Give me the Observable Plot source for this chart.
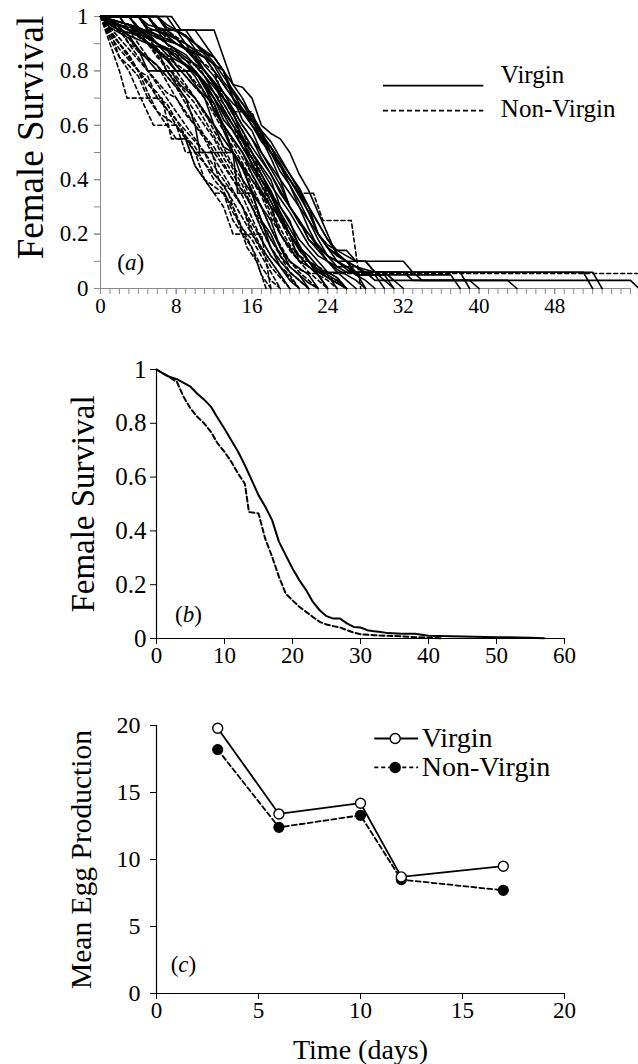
<!DOCTYPE html>
<html><head><meta charset="utf-8">
<script src="https://cdn.jsdelivr.net/npm/d3@7"></script>
<script src="https://cdn.jsdelivr.net/npm/@observablehq/plot@0.6"></script>
<style>
html,body{margin:0;padding:0;background:#fff;}
#chart svg{display:block;overflow:visible;}
#chart svg text{font-family:"Liberation Serif","Times New Roman",serif;}
</style></head><body><div id="chart"></div>
<script>
// ---------- Panel (a): individual survival curves, flat lists of day, survival ----------
const virginCurves = [
  [0,1, 7.5,1, 8.5,.95, 12,.95, 13,.85, 14,.75, 15,.74, 16,.7, 17,.6, 18,.57, 19,.55, 20,.5, 21,.42, 22,.36, 23,.28, 24,.2, 25,.12, 26,.1, 27,.06, 28,0],
  [0,1, 5,1, 6,.95, 9,.9, 11,.85, 13,.8, 14,.7, 15,.65, 17,.58, 18,.5, 19,.45, 20,.4, 22,.3, 23,.2, 24,.15, 26,.1, 27,.05, 29,.05, 30,0],
  [0,1, 3,.95, 6,.95, 7,.9, 9,.85, 11,.8, 12,.75, 14,.65, 15,.55, 16,.5, 17,.45, 18,.4, 19,.3, 20,.25, 21,.15, 22,.1, 23,.05, 24,0],
  [0,1, 2,.97, 4,.95, 6,.9, 8,.85, 10,.8, 11,.75, 12,.7, 13,.65, 14,.6, 15,.55, 16,.45, 17,.4, 18,.35, 19,.25, 20,.2, 21,.1, 22,.1, 23,.05, 24,0],
  [0,1, 4,1, 5,.95, 8,.95, 9,.9, 11,.85, 12,.8, 13,.75, 14,.7, 16,.62, 17,.55, 18,.48, 19,.4, 20,.35, 21,.3, 22,.22, 23,.15, 24,.12, 25,.1, 28,.1, 29,.06, 33,.06, 34,.03, 56,.03, 56.9,0],
  [0,1, 3,1, 4,.95, 5,.9, 7,.85, 8,.8, 10,.8, 11,.75, 12,.65, 13,.6, 14,.5, 15,.45, 16,.35, 17,.3, 18,.25, 19,.15, 20,.1, 22,.05, 23,0],
  [0,1, 6,1, 7,.97, 9,.93, 10,.88, 12,.85, 13,.8, 14,.72, 15,.66, 16,.6, 17,.55, 18,.52, 19,.45, 20,.4, 21,.35, 22,.28, 23,.2, 24,.16, 25,.14, 26,.14, 27,.1, 32,.1, 33,.06, 52,.06, 53,0],
  [0,1, 2,.95, 4,.93, 6,.88, 7,.8, 9,.8, 10,.75, 11,.7, 12,.6, 13,.55, 14,.5, 15,.4, 16,.35, 17,.25, 18,.2, 19,.12, 20,.08, 21,.05, 22,0],
  [0,1, 3,1, 4,.96, 6,.92, 8,.9, 10,.86, 11,.8, 12,.76, 13,.7, 14,.66, 15,.6, 16,.55, 17,.5, 18,.44, 19,.38, 20,.3, 21,.25, 22,.18, 23,.15, 24,.12, 26,.08, 27,.05, 30,.05, 31,0],
  [0,1, 1,.97, 3,.93, 4,.88, 5,.8, 7.4,.8, 8.4,.75, 10,.7, 11,.65, 12,.6, 13,.52, 14,.5, 15,.45, 16,.4, 17,.35, 18,.3, 19,.2, 20,.15, 21,.1, 23,.06, 38,.06, 39,0],
  [0,1, 5,1, 6,.95, 10,.95, 11,.9, 12,.85, 13,.8, 14,.7, 15,.62, 16,.58, 17,.5, 18,.45, 19,.4, 20,.3, 21,.25, 22,.2, 23,.15, 24,.1, 25,.06, 26,.03, 27,0],
  [0,1, 2,1, 3,.95, 5,.92, 7,.88, 8,.82, 9,.78, 10,.74, 12,.68, 13,.6, 14,.55, 15,.5, 16,.42, 17,.36, 18,.3, 19,.26, 20,.2, 21,.15, 22,.12, 23,.08, 24,.05, 25,0],
  [0,1, 4,1, 5,.96, 7,.93, 8,.9, 10,.87, 11,.82, 12,.78, 13,.72, 14,.68, 15,.65, 16,.6, 17,.56, 18,.5, 19,.45, 20,.38, 21,.32, 22,.25, 23,.18, 24,.12, 25,.08, 26,.06, 28,.06, 29,.03, 43,.03, 44,0],
  [0,1, 3,.97, 5,.93, 6,.9, 8,.86, 9,.82, 11,.76, 12,.7, 13,.62, 14,.58, 15,.52, 16,.48, 17,.42, 18,.36, 19,.28, 20,.22, 21,.16, 22,.1, 23,.07, 24,.05, 25,.03, 26,0],
  [0,1, 7,1, 8,.95, 10,.9, 11,.86, 12,.82, 13,.76, 14,.72, 15,.68, 16,.64, 17,.58, 18,.54, 19,.48, 20,.42, 21,.36, 22,.3, 23,.24, 24,.18, 25,.13, 26,.1, 27,.08, 28,.06, 51,.06, 52,0],
  [0,1, 1,.96, 3,.92, 4,.88, 5,.84, 6,.8, 7,.8, 8,.75, 9,.7, 10,.6, 10.5,.5, 14,.5, 14.5,.35, 16,.35, 17,.25, 18,.15, 19,.08, 20,.03, 21,0],
  [0,1, 4,1, 5,.95, 8,.9, 9,.88, 10,.85, 11,.8, 12,.75, 13,.68, 14,.62, 15,.56, 16,.5, 17,.44, 18,.38, 19,.33, 20,.28, 21,.22, 22,.16, 23,.12, 24,.1, 25,.08, 27,.08, 28,.05, 37,.05, 38,0],
  [0,1, 2,.98, 4,.96, 6,.93, 7,.9, 9,.86, 10,.82, 11,.78, 12,.74, 13,.7, 14,.64, 15,.58, 16,.52, 17,.47, 18,.42, 19,.35, 20,.3, 21,.25, 22,.18, 23,.14, 24,.1, 25,.07, 26,.05, 27,.03, 28,0],
  [0,1, 5,1, 6,.96, 8,.92, 9,.88, 11,.85, 12,.8, 13,.75, 14,.7, 15,.65, 16,.6, 17,.54, 18,.5, 19,.46, 20,.4, 21,.34, 22,.28, 23,.2, 24,.15, 25,.12, 26,.1, 27,.08, 29,.06, 32,.06, 33,.03, 39,.03, 40,0],
  [0,1, 3,.97, 4,.94, 6,.9, 7,.86, 8,.84, 10,.8, 11,.76, 12,.72, 13,.66, 14,.6, 15,.54, 16,.48, 17,.42, 18,.35, 19,.3, 20,.24, 21,.18, 22,.14, 23,.1, 24,.06, 25,.04, 26,0],
  [0,1, 6,1, 7,.96, 9,.93, 10,.9, 11,.87, 12,.83, 13,.78, 14,.73, 15,.68, 16,.62, 17,.57, 18,.52, 19,.47, 20,.42, 21,.37, 22,.3, 23,.24, 24,.18, 25,.14, 26,.12, 27,.1, 28,.1, 29,.06, 30,.03, 31,0],
  [0,1, 2,.96, 3,.93, 5,.9, 6,.87, 7,.84, 8,.8, 10,.8, 11,.74, 12,.68, 13,.58, 14,.5, 15,.44, 16,.36, 17,.3, 18,.22, 19,.15, 20,.08, 21,.05, 22,.02, 23,0],
  [0,1, 6,1, 7,.95, 9,.95, 10,.9, 12,.85, 13,.8, 14,.75, 15,.7, 16,.63, 17,.57, 18,.5, 19,.43, 20,.38, 21,.3, 22,.25, 23,.2, 24,.15, 25,.1, 26,.07, 27,.05, 28,.03, 29,0],
  [0,1, 1,.97, 2,.95, 4,.93, 5,.9, 7,.88, 8,.85, 9,.82, 10,.78, 11,.72, 12,.66, 13,.6, 14,.55, 15,.5, 16,.44, 17,.38, 18,.32, 19,.25, 20,.2, 21,.15, 22,.1, 23,.07, 24,.04, 25,.02, 26,0],
  [0,1, 4,1, 5,.97, 7,.95, 8,.92, 9,.88, 10,.84, 11,.8, 12,.76, 13,.72, 14,.66, 15,.6, 16,.55, 17,.48, 18,.42, 19,.36, 20,.3, 21,.24, 22,.2, 23,.16, 24,.12, 25,.1, 26,.08, 27,.06, 30,.06, 31,.03, 32,0],
  [0,1, 2,.97, 3,.95, 5,.94, 6,.9, 8,.87, 9,.84, 10,.8, 11,.74, 12,.7, 13,.64, 14,.58, 15,.52, 16,.46, 17,.4, 18,.34, 19,.27, 20,.2, 21,.14, 22,.1, 23,.06, 24,.04, 25,.02, 26,0]
];
const nonVirginCurves = [
  [0,1, 1,.9, 2,.8, 2.8,.7, 6.5,.7, 7.5,.55, 9,.55, 10,.45, 11,.4, 12,.35, 13,.3, 14,.2, 17,.2, 17.5,.1, 18,0],
  [0,1, 1,.95, 2,.85, 3,.8, 4,.72, 5.6,.6, 8,.6, 9,.5, 11.8,.5, 12.5,.4, 13.5,.35, 14.5,.25, 15.5,.15, 16.5,.1, 17,.05, 17.5,0],
  [0,1, 6,1, 7,.95, 9,.9, 10,.85, 12,.8, 13,.7, 14,.65, 16,.65, 17,.55, 18,.5, 19,.45, 20,.4, 21,.35, 22.5,.35, 23.5,.25, 26.5,.25, 27.5,0],
  [0,1, 1,.92, 2,.85, 3,.82, 4,.78, 5,.7, 6,.65, 8,.6, 9,.55, 10,.45, 11,.4, 13,.35, 14,.3, 15,.22, 16,.15, 17,.08, 18,.03, 19,0],
  [0,1, 2,.95, 3,.9, 4,.85, 5,.8, 6,.75, 7,.7, 8,.65, 9,.6, 10,.55, 11,.5, 12,.45, 13,.4, 14,.35, 15,.3, 16,.22, 17,.15, 18,.1, 19,.05, 20,0],
  [0,1, 3,.97, 4,.93, 6,.88, 7,.84, 8,.8, 9,.75, 10,.7, 11,.65, 12,.58, 13,.52, 14,.45, 15,.4, 16,.32, 17,.25, 18,.18, 19,.12, 20,.06, 21,.03, 22,0],
  [0,1, 1,.93, 2,.88, 3,.84, 4,.8, 5,.76, 6,.7, 7,.68, 8,.62, 9,.56, 10,.5, 11,.46, 12,.4, 13,.36, 14,.28, 15,.22, 16,.18, 17,.12, 18,.06, 19,0],
  [0,1, 4,1, 5,.95, 7,.9, 8,.86, 10,.82, 11,.78, 12,.72, 13,.66, 14,.6, 15,.52, 16,.46, 17,.38, 18,.3, 19,.22, 20,.16, 21,.12, 22,.08, 23,.05, 24,0],
  [0,1, 2,.96, 3,.9, 5,.85, 6,.82, 7,.76, 8,.7, 9,.64, 10,.6, 11,.56, 12,.5, 13,.45, 14,.4, 15,.34, 16,.26, 17,.18, 18,.12, 19,.08, 20,.04, 21,0],
  [0,1, 3,.95, 5,.9, 6,.86, 7,.8, 8,.76, 9,.72, 10,.68, 11,.62, 12,.56, 13,.5, 14,.44, 15,.38, 16,.3, 17,.24, 18,.18, 19,.13, 20,.1, 21,.07, 22,.055, 57,.055],
  [0,1, 5,1, 6,.95, 8,.92, 9,.88, 10,.84, 11,.78, 12,.72, 13,.68, 14,.62, 15,.55, 16,.48, 17,.4, 18,.32, 19,.25, 20,.18, 21,.12, 22,.08, 23,.05, 24,.03, 25,0],
  [0,1, 1,.95, 2,.9, 3,.86, 4,.8, 5,.78, 6,.7, 7,.66, 8,.62, 9,.58, 10,.54, 11,.5, 12,.42, 13,.38, 14,.36, 15,.3, 16,.2, 17,.15, 18,.1, 19,.05, 20,0],
  [0,1, 2,.97, 4,.93, 5,.9, 6,.85, 7,.82, 8,.78, 9,.74, 10,.7, 11,.64, 12,.6, 13,.55, 14,.5, 15,.45, 16,.38, 17,.3, 18,.22, 19,.16, 20,.1, 21,.06, 22,.03, 23,0],
  [0,1, 1,.97, 3,.92, 4,.87, 6,.82, 7,.78, 8,.74, 9,.68, 10,.62, 11,.56, 12,.52, 13,.46, 14,.4, 15,.36, 16,.3, 17,.22, 18,.15, 19,.1, 20,.06, 21,.03, 22,0],
  [0,1, 3,1, 4,.96, 5,.92, 6,.88, 7,.85, 9,.8, 10,.76, 11,.72, 12,.66, 13,.6, 14,.54, 15,.48, 16,.42, 17,.35, 18,.28, 19,.2, 20,.14, 21,.1, 22,.06, 23,.03, 24,0],
  [0,1, 2,.9, 3,.85, 4,.8, 5,.72, 6,.65, 7,.6, 8,.55, 9,.55, 10,.5, 11,.4, 12,.35, 13,.35, 14,.25, 15,.2, 16,.15, 17,.05, 18,0],
  [0,1, 4,.96, 6,.9, 7,.86, 8,.82, 9,.78, 10,.74, 11,.7, 12,.64, 13,.58, 14,.52, 15,.46, 16,.4, 17,.34, 18,.26, 19,.2, 20,.15, 21,.12, 22,.1, 23,.08, 24,.06, 25,.04, 26,0],
  [0,1, 1,.96, 2,.92, 3,.88, 4,.84, 5,.8, 6,.76, 7,.72, 8,.7, 9,.65, 10,.6, 11,.55, 12,.48, 13,.42, 14,.36, 15,.3, 16,.24, 17,.18, 18,.12, 19,.08, 20,.05, 21,0],
  [0,1, 2,1, 3,.95, 4,.9, 5,.85, 6,.82, 7,.78, 8,.74, 9,.7, 10,.65, 11,.6, 12,.55, 13,.48, 14,.42, 15,.36, 16,.3, 17,.22, 18,.15, 19,.1, 20,.06, 21,.03, 22,0],
  [0,1, 1,.94, 2,.9, 3,.85, 4,.8, 5,.75, 6,.72, 7,.66, 8,.6, 9,.56, 10,.52, 11,.46, 12,.42, 13,.38, 14,.32, 15,.26, 16,.2, 17,.14, 18,.08, 19,.04, 20,0],
  [0,1, 5,1, 6,.96, 7,.92, 9,.88, 10,.84, 11,.8, 12,.75, 13,.7, 14,.64, 15,.58, 16,.5, 17,.42, 18,.35, 19,.28, 20,.2, 21,.15, 22,.1, 23,.06, 24,.04, 25,.03, 26,0]
];
const survivalTicks = [0, 0.2, 0.4, 0.6, 0.8, 1];
const survivalMinorTicks = [0, 0.1, 0.2, 0.3, 0.4, 0.5, 0.6, 0.7, 0.8, 0.9, 1];
const dayTicksA = [0, 8, 16, 24, 32, 40, 48];
const legendA = [{label: "Virgin", y: 0.746, ty: 0.757}, {label: "Non-Virgin", y: 0.654, ty: 0.629}];

// ---------- Panel (b): pooled survival ----------
const virginMeanDays = [0,1,2,3,4,5,6,7,8,9,10,11,12,13,14,15,16,17,18,19,20,21,22,23,24,25,26,27,28,29,30,31,32,33,34,36,38,40,45,50,55,57];
const virginMean = [1,.985,.972,.964,.95,.936,.91,.888,.862,.82,.78,.737,.694,.644,.589,.533,.49,.44,.36,.31,.26,.217,.18,.136,.105,.083,.074,.074,.056,.043,.041,.031,.027,.024,.02,.018,.018,.01,.007,.005,.003,.001];
const nonVirginMeanDays = [0,1,2,3,4,5,6,7,8,9,10,11,12,13,13.6,15,16,17,18,19,20,21,22,23,24,25,26,27,28,29,30,32,34,36,38,40,42];
const nonVirginMean = [1,.985,.97,.954,.898,.855,.824,.8,.768,.725,.694,.657,.613,.575,.47,.465,.37,.304,.23,.167,.142,.118,.099,.08,.062,.052,.046,.041,.031,.022,.016,.012,.01,.008,.005,.003,.001];
const dayTicksB = [0, 10, 20, 30, 40, 50, 60];

// ---------- Panel (c): mean egg production ----------
const eggDays = [3, 6, 10, 12, 17];
const virginEggs = [19.8, 13.4, 14.2, 8.7, 9.5];
const nonVirginEggs = [18.2, 12.4, 13.3, 8.5, 7.7];
const eggTicks = [0, 5, 10, 15, 20];
const dayTicksC = [0, 5, 10, 15, 20];
const legendC = [{label: "Virgin", y: 19.03}, {label: "Non-Virgin", y: 16.87}];

// ---------- helpers ----------
const FONT = "Liberation Serif";
function curveRows(curves, group) {
  return curves.flatMap((c, i) => {
    const out = [];
    for (let k = 0; k < c.length; k += 2) out.push({id: group + i, day: c[k], s: c[k + 1]});
    return out;
  });
}
const zip = (xs, ys) => xs.map((x, i) => ({x, y: ys[i]}));
const fmt = d => String(d);
const baseStyle = {fontFamily: FONT, color: "black", background: "white", overflow: "visible"};
const ax = o => ({fontFamily: FONT, fontVariant: "normal", ...o});

// ---------- Panel (a) ----------
const plotA = Plot.plot({
  width: 638, height: 320,
  marginTop: 16, marginBottom: 32, marginLeft: 100, marginRight: 8,
  style: baseStyle,
  x: {domain: [0, 56]},
  y: {domain: [0, 1]},
  marks: [
    Plot.ruleX([0], {stroke: "#8a8a8a", strokeWidth: 1}),
    Plot.ruleY([0], {stroke: "#8a8a8a", strokeWidth: 1}),
    Plot.axisX(ax({ticks: d3.range(0, 57), tickSize: 6, tickFormat: () => "", stroke: "#8a8a8a", label: null})),
    Plot.axisX(ax({ticks: dayTicksA, tickSize: 6, tickPadding: 4, fontSize: 21, tickFormat: fmt, stroke: "#8a8a8a", label: null})),
    Plot.axisY(ax({ticks: survivalMinorTicks, tickSize: 6, tickFormat: () => "", stroke: "#8a8a8a", label: null})),
    Plot.axisY(ax({ticks: survivalTicks, tickSize: 6, tickPadding: 6, fontSize: 23, tickFormat: fmt, stroke: "#8a8a8a", label: null})),
    Plot.text(["Female Survival"], {text: d => d, frameAnchor: "left", rotate: -90, lineAnchor: "middle", textAnchor: "middle", dx: -69, dy: -15, fontSize: 37, fontFamily: FONT}),
    Plot.line(curveRows(nonVirginCurves, "n"), {x: "day", y: "s", z: "id", stroke: "black", strokeWidth: 1.6, strokeDasharray: "4,3"}),
    Plot.line(curveRows(virginCurves, "v"), {x: "day", y: "s", z: "id", stroke: "black", strokeWidth: 1.6}),
    Plot.ruleY(legendA.slice(0, 1), {y: "y", x1: 29.9, x2: 40.5, stroke: "black", strokeWidth: 1.6}),
    Plot.ruleY(legendA.slice(1), {y: "y", x1: 29.9, x2: 40.5, stroke: "black", strokeWidth: 1.6, strokeDasharray: "5,3"}),
    Plot.text(legendA, {x: 42.3, y: "ty", text: "label", textAnchor: "start", lineAnchor: "bottom", fontSize: 25, fontFamily: FONT}),
    Plot.text(["(a)"], {x: 3.2, y: 0.096, text: d => d, fontSize: 23, fontFamily: FONT})
  ]
});

// ---------- Panel (b) ----------
const plotB = Plot.plot({
  width: 638, height: 360,
  marginTop: 49, marginBottom: 42, marginLeft: 156, marginRight: 74,
  style: baseStyle,
  x: {domain: [0, 60]},
  y: {domain: [0, 1]},
  marks: [
    Plot.ruleX([0], {stroke: "black", strokeWidth: 1.2}),
    Plot.ruleY([0], {stroke: "black", strokeWidth: 1.2}),
    Plot.axisX(ax({ticks: dayTicksB, tickSize: 6, tickPadding: 2, fontSize: 23, tickFormat: fmt, label: null})),
    Plot.axisY(ax({ticks: survivalTicks, tickSize: 6, tickPadding: 4, fontSize: 25, tickFormat: fmt, label: null})),
    Plot.axisY(ax({ticks: [], label: "Female Survival", labelAnchor: "center", labelArrow: "none", labelOffset: 86, fontSize: 33})),
    Plot.line(zip(nonVirginMeanDays, nonVirginMean), {x: "x", y: "y", stroke: "black", strokeWidth: 2, strokeDasharray: "5,3"}),
    Plot.line(zip(virginMeanDays, virginMean), {x: "x", y: "y", stroke: "black", strokeWidth: 2}),
    Plot.text(["(b)"], {x: 4.7, y: 0.089, text: d => d, fontSize: 23, fontFamily: FONT})
  ]
});

// ---------- Panel (c) ----------
const plotC = Plot.plot({
  width: 638, height: 384,
  marginTop: 45, marginBottom: 71, marginLeft: 156, marginRight: 74,
  style: baseStyle,
  x: {domain: [0, 20]},
  y: {domain: [0, 20]},
  marks: [
    Plot.ruleX([0], {stroke: "black", strokeWidth: 1.2}),
    Plot.ruleY([0], {stroke: "black", strokeWidth: 1.2}),
    Plot.axisX(ax({ticks: dayTicksC, tickSize: 6, tickPadding: 2, fontSize: 23, tickFormat: fmt, label: null})),
    Plot.axisY(ax({ticks: eggTicks, tickSize: 6, tickPadding: 10, fontSize: 24, tickFormat: fmt, label: null})),
    Plot.axisY(ax({ticks: [], label: "Mean Egg Production", labelAnchor: "center", labelArrow: "none", labelOffset: 86, fontSize: 29.5})),
    Plot.axisX(ax({ticks: [], label: "Time (days)", labelAnchor: "center", labelArrow: "none", labelOffset: 65, fontSize: 28})),
    Plot.line(zip(eggDays, nonVirginEggs), {x: "x", y: "y", stroke: "black", strokeWidth: 1.8, strokeDasharray: "5,3"}),
    Plot.line(zip(eggDays, virginEggs), {x: "x", y: "y", stroke: "black", strokeWidth: 1.8}),
    Plot.dot(zip(eggDays, nonVirginEggs), {x: "x", y: "y", r: 5, fill: "black", stroke: "black", strokeWidth: 1.2}),
    Plot.dot(zip(eggDays, virginEggs), {x: "x", y: "y", r: 5, fill: "white", stroke: "black", strokeWidth: 1.4}),
    Plot.ruleY(legendC.slice(0, 1), {y: "y", x1: 10.7, x2: 12.85, stroke: "black", strokeWidth: 1.8}),
    Plot.ruleY(legendC.slice(1), {y: "y", x1: 10.7, x2: 12.85, stroke: "black", strokeWidth: 1.8, strokeDasharray: "4,3"}),
    Plot.dot(legendC.slice(1), {x: 11.7, y: "y", r: 5, fill: "black", stroke: "black"}),
    Plot.dot(legendC.slice(0, 1), {x: 11.7, y: "y", r: 5, fill: "white", stroke: "black", strokeWidth: 1.4}),
    Plot.text(legendC, {x: 13.0, y: "y", text: "label", textAnchor: "start", lineAnchor: "middle", fontSize: 28, fontFamily: FONT}),
    Plot.text(["(c)"], {x: 1.32, y: 2.16, text: d => d, fontSize: 23, fontFamily: FONT})
  ]
});

const root = document.getElementById("chart");
for (const p of [plotA, plotB, plotC]) {
  root.appendChild(p);
  // italic panel letter inside upright parentheses
  p.querySelectorAll("text").forEach(t => {
    const m = /^\(([abc])\)$/.exec(t.textContent);
    if (m) {
      t.textContent = "";
      t.appendChild(document.createTextNode("("));
      const ts = document.createElementNS("http://www.w3.org/2000/svg", "tspan");
      ts.setAttribute("font-style", "italic");
      ts.textContent = m[1];
      t.appendChild(ts);
      t.appendChild(document.createTextNode(")"));
    }
  });
}
</script></body></html>
